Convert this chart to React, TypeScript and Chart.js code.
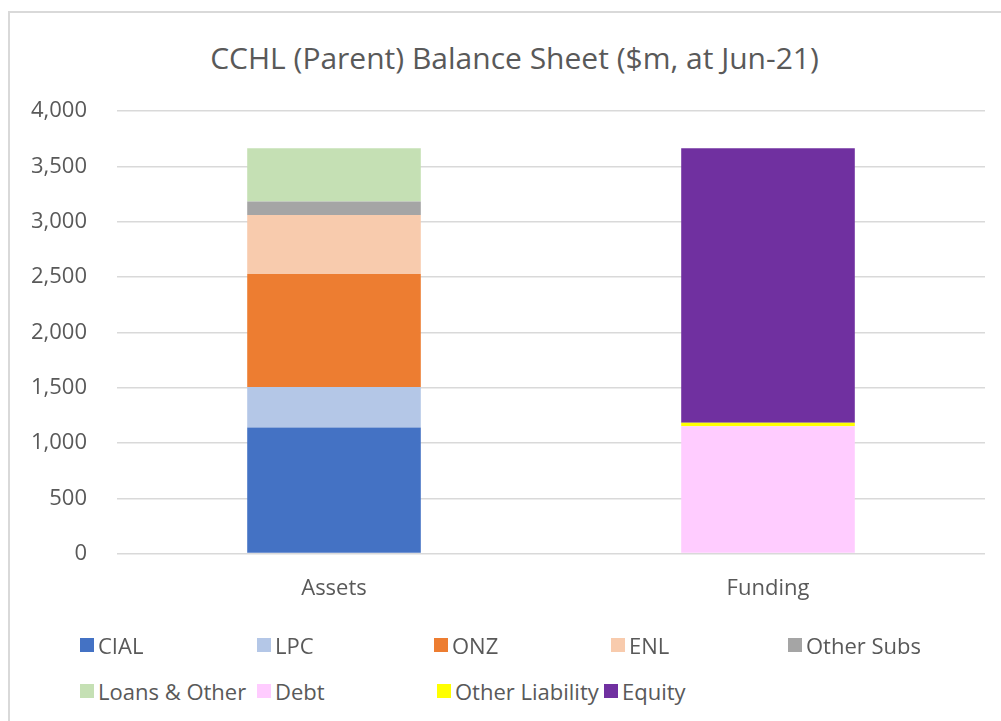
import React, { useEffect, useRef } from "react";
import { Chart, registerables } from "chart.js";

Chart.register(...registerables);

const title = "CCHL (Parent) Balance Sheet ($m, at Jun-21)";
const categories = ["Assets", "Funding"];
const seriesNames = ["CIAL", "LPC", "ONZ", "ENL", "Other Subs", "Loans & Other", "Debt", "Other Liability", "Equity"];
const cial = [1140, 0];
const lpc = [365, 0];
const onz = [1023, 0];
const enl = [533, 0];
const otherSubs = [120, 0];
const loansOther = [482, 0];
const debt = [0, 1150];
const otherLiability = [0, 32];
const equity = [0, 2481];
const seriesColors = ["#4472C4", "#B4C7E7", "#ED7D31", "#F8CBAD", "#A5A5A5", "#C5E0B4", "#FFCCFF", "#FFFF00", "#7030A0"];
const yTicks = [0, 500, 1000, 1500, 2000, 2500, 3000, 3500, 4000];

const seriesValues = [cial, lpc, onz, enl, otherSubs, loansOther, debt, otherLiability, equity];

const TEXT = "#595959";
const FONT = "'Open Sans', 'Noto Sans', sans-serif";

export default function App() {
  const ref = useRef<HTMLCanvasElement | null>(null);

  useEffect(() => {
    if (!ref.current) return;
    const chart = new Chart(ref.current, {
      type: "bar",
      data: {
        labels: categories,
        datasets: seriesNames.map((name, i) => ({
          label: name,
          data: seriesValues[i],
          backgroundColor: seriesColors[i],
          borderWidth: 0,
          categoryPercentage: 0.5,
          barPercentage: 0.8,
        })),
      },
      options: {
        responsive: false,
        animation: false,
        layout: { padding: { left: 1, right: 16, top: 111, bottom: 8 } },
        plugins: {
          legend: { display: false },
          tooltip: { enabled: false },
          title: { display: false },
        },
        scales: {
          x: {
            stacked: true,
            grid: { display: false, drawTicks: false },
            border: { display: false },
            ticks: { color: TEXT, font: { family: FONT, size: 22 }, padding: 22 },
          },
          y: {
            stacked: true,
            min: 0,
            max: 4000,
            afterBuildTicks: (axis: any) => {
              axis.ticks = yTicks.map((v) => ({ value: v }));
            },
            grid: { color: "#D9D9D9", lineWidth: 1.5, drawTicks: false },
            border: { display: false },
            ticks: {
              color: TEXT,
              font: { family: FONT, size: 22 },
              padding: 30,
              callback: (v: any) => Number(v).toLocaleString("en-US"),
            },
          },
        },
      },
    });
    return () => chart.destroy();
  }, []);

  const legendX = [80, 257, 434, 611, 788, 80, 257, 437, 604];
  const rows = [645, 691];

  return (
    <div style={{ position: "fixed", left: 0, top: 0, width: 1001, height: 721, background: "#fff", overflow: "hidden" }}>
      <div
        style={{
          position: "absolute",
          left: 8,
          top: 11,
          width: 1010,
          height: 720,
          borderLeft: "2px solid #D9D9D9",
          borderTop: "2px solid #D9D9D9",
        }}
      />
      <div
        style={{
          position: "absolute",
          left: 14,
          top: 40,
          width: 1001,
          height: 36,
          lineHeight: "36px",
          textAlign: "center",
          fontFamily: FONT,
          fontSize: 30,
          color: TEXT,
          whiteSpace: "nowrap",
        }}
      >
        {title}
      </div>
      <canvas ref={ref} width={1001} height={632} style={{ position: "absolute", left: 0, top: 0 }} />
      {seriesNames.map((name, i) => {
        const r = Math.floor(i / 5);
        return (
          <div
            key={name}
            style={{
              position: "absolute",
              left: legendX[i],
              top: rows[r] - 15,
              height: 30,
              display: "flex",
              alignItems: "center",
              fontFamily: FONT,
              fontSize: 22,
              color: TEXT,
              whiteSpace: "nowrap",
            }}
          >
            <span style={{ display: "inline-block", width: 14, height: 14, background: seriesColors[i], marginRight: 4 }} />
            <span>{name}</span>
          </div>
        );
      })}
    </div>
  );
}
